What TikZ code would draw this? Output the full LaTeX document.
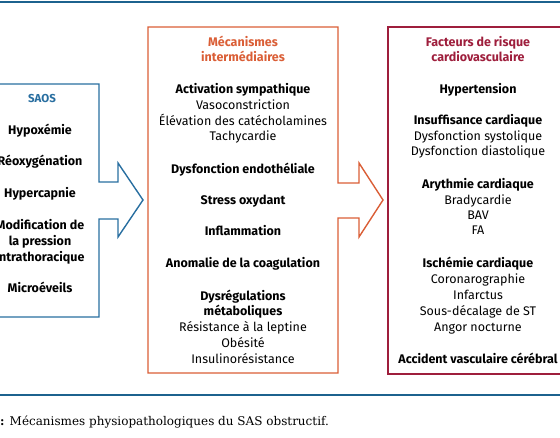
\documentclass[tikz,border=0pt]{standalone}
\usepackage{fontspec}
\setmainfont{Fira Sans}
\newfontfamily\capfont{DejaVu Serif}

\definecolor{saosblue}{RGB}{40,110,160}
\definecolor{rulblue}{RGB}{28,98,142}
\definecolor{mecorange}{RGB}{218,94,54}
\definecolor{riskred}{RGB}{158,30,60}

\tikzset{
  txt/.style={inner sep=0pt, text height=9pt, text depth=3pt, font=\fontsize{12.5}{14}\selectfont},
  head/.style={txt, font=\fontsize{12.5}{14}\selectfont\bfseries},
  ttl/.style={txt, font=\fontsize{12.5}{14}\selectfont\bfseries},
  frame/.style={line width=1.4pt, line join=miter}
}

\begin{document}
\begin{tikzpicture}[x=1pt, y=-1pt]
\useasboundingbox (0,0) rectangle (560,438);

% rules
\draw[rulblue, line width=2.6pt] (0,2) -- (560,2);
\draw[rulblue, line width=2.6pt] (0,395) -- (560,395);

% boxes with arrows
\draw[frame, saosblue] (-20,84) -- (99,84) -- (99,182) -- (118,182) -- (118,163)
  -- (143,200) -- (118,237) -- (118,219) -- (99,219) -- (99,317) -- (-20,317) -- cycle;
\draw[frame, mecorange] (148,27) -- (338,27) -- (338,183) -- (359,183) -- (359,163)
  -- (383,200) -- (359,237) -- (359,218) -- (338,218) -- (338,373) -- (148,373) -- cycle;
\draw[frame, riskred] (388,27) rectangle (566,374);

% SAOS
\node[ttl, saosblue, font=\fontsize{11.5}{14}\selectfont\bfseries] (saos) at (42,100) {SAOS};
\node[head] (hypox) at (40,132) {Hypoxémie};
\node[head] (reox) at (40,163) {Réoxygénation};
\node[head] (hyperc) at (40,195) {Hypercapnie};
\node[head] (modif) at (40,227) {Modification de};
\node[head] (press) at (40,243) {la pression};
\node[head] (intra) at (40,259) {intrathoracique};
\node[head] (micro) at (40,290) {Microéveils};

% mecanismes intermediaires
\node[ttl, mecorange] (meca) at (243,44) {Mécanismes};
\node[ttl, mecorange] (inter) at (243,59) {intermédiaires};
\node[head] (activ) at (243,91) {Activation sympathique};
\node[txt] (vaso) at (243,107) {Vasoconstriction};
\node[txt] (elev) at (243,123) {Élévation des catécholamines};
\node[txt] (tachy) at (243,138) {Tachycardie};
\node[head] (endo) at (243,171) {Dysfonction endothéliale};
\node[head] (stress) at (243,202) {Stress oxydant};
\node[head] (inflam) at (243,233) {Inflammation};
\node[head] (coag) at (243,265) {Anomalie de la coagulation};
\node[head] (dysreg) at (243,298) {Dysrégulations};
\node[head] (metab) at (243,313) {métaboliques};
\node[txt] (lept) at (243,329) {Résistance à la leptine};
\node[txt] (obes) at (243,345) {Obésité};
\node[txt] (insul) at (243,361) {Insulinorésistance};

% facteurs de risque
\node[ttl, riskred] (fact) at (478,44) {Facteurs de risque};
\node[ttl, riskred] (cardio) at (478,59) {cardiovasculaire};
\node[head] (hta) at (478,91) {Hypertension};
\node[head] (insuf) at (478,122) {Insuffisance cardiaque};
\node[txt] (systo) at (478,138) {Dysfonction systolique};
\node[txt] (diasto) at (478,153) {Dysfonction diastolique};
\node[head] (aryth) at (478,186) {Arythmie cardiaque};
\node[txt] (brady) at (478,202) {Bradycardie};
\node[txt] (bav) at (478,217) {BAV};
\node[txt] (fa) at (478,232) {FA};
\node[head] (isch) at (478,265) {Ischémie cardiaque};
\node[txt] (coro) at (478,281) {Coronarographie};
\node[txt] (infarc) at (478,297) {Infarctus};
\node[txt] (sous) at (478,313) {Sous-décalage de ST};
\node[txt] (angor) at (478,329) {Angor nocturne};
\node[head] (avc) at (478,361) {Accident vasculaire cérébral};

% legende
\node[txt, anchor=west, font=\capfont\fontsize{12}{14}\selectfont] (legende) at (0,422)
  {\textbf{:} Mécanismes physiopathologiques du SAS obstructif.};
\end{tikzpicture}
\end{document}
